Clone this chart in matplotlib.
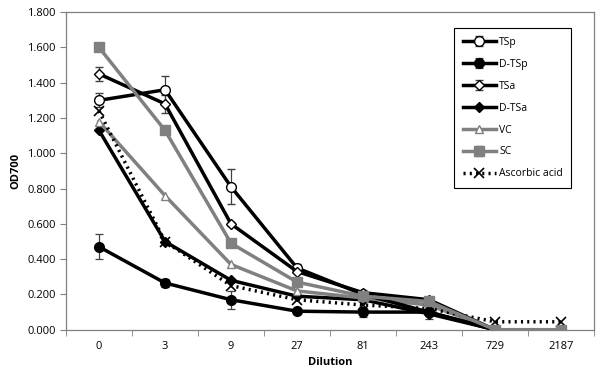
import matplotlib.pyplot as plt
import numpy as np

plt.rcParams['font.family'] = ['Open Sans', 'DejaVu Sans']

dilutions = ['0', '3', '9', '27', '81', '243', '729', '2187']

tsp = [1.30, 1.36, 0.81, 0.35, 0.20, 0.10, 0.0, 0.0]
tsp_err = [0.04, 0.08, 0.10, 0.02, 0.02, 0.02, 0.0, 0.0]
dtsp = [0.47, 0.265, 0.17, 0.105, 0.10, 0.10, 0.0, 0.0]
dtsp_err = [0.07, 0.02, 0.05, 0.01, 0.03, 0.04, 0.0, 0.0]
tsa = [1.45, 1.28, 0.60, 0.33, 0.21, 0.17, 0.0, 0.0]
tsa_err = [0.04, 0.05, 0.01, 0.01, 0.01, 0.01, 0.0, 0.0]
dtsa = [1.13, 0.50, 0.28, 0.19, 0.17, 0.09, 0.0, 0.0]
vc = [1.18, 0.76, 0.37, 0.22, 0.18, 0.14, 0.0, 0.0]
sc = [1.60, 1.13, 0.49, 0.27, 0.19, 0.16, 0.0, 0.0]
sc_err = [0.02, 0.01, 0.01, 0.01, 0.01, 0.01, 0.0, 0.0]
ascorbic = [1.24, 0.50, 0.25, 0.17, 0.14, 0.12, 0.045, 0.045]

labels = ['TSp', 'D-TSp', 'TSa', 'D-TSa', 'VC', 'SC', 'Ascorbic acid']

x = np.arange(len(dilutions))

fig, ax = plt.subplots(figsize=(6, 3.79), dpi=100)
fig.subplots_adjust(left=0.11, right=0.99, top=0.968, bottom=0.13)

black = '#000000'
gray = '#808080'
ekw = dict(ecolor='#404040', elinewidth=0.9, capsize=3, capthick=0.9)

handles = {}
handles['TSp'] = ax.errorbar(x, tsp, yerr=tsp_err, color=black, lw=2.5,
                             marker='o', ms=7, mfc='white', mec=black,
                             mew=1, **ekw)
handles['D-TSp'] = ax.errorbar(x, dtsp, yerr=dtsp_err, color=black, lw=2.5,
                               marker='o', ms=7, mfc=black, mec=black, **ekw)
handles['TSa'] = ax.errorbar(x, tsa, yerr=tsa_err, color=black, lw=2.5,
                             marker='D', ms=5, mfc='white', mec=black,
                             mew=1, **ekw)
handles['D-TSa'], = ax.plot(x, dtsa, color=black, lw=2.5, marker='D', ms=5,
                            mfc=black, mec=black)
handles['VC'], = ax.plot(x, vc, color=gray, lw=2.5, marker='^', ms=6,
                         mfc='white', mec=gray, mew=1)
handles['SC'] = ax.errorbar(x, sc, yerr=sc_err, color=gray, lw=2.5,
                            marker='s', ms=7, mfc=gray, mec=gray, **ekw)
handles['Ascorbic acid'], = ax.plot(x, ascorbic, color=black, lw=2.5,
                                    ls=(0, (0.6, 1.2)), marker='x', ms=7,
                                    mew=1.2, mec=black)

ax.set_xlim(-0.5, len(dilutions) - 0.5)
ax.set_ylim(0, 1.8)
yt = np.arange(0, 1.81, 0.2)
ax.set_yticks(yt)
ax.set_yticklabels([f'{v:.3f}' for v in yt], fontsize=8)
ax.set_xticks(x)
ax.set_xticklabels(dilutions, fontsize=8)
ax.set_xticks(np.arange(-0.5, len(dilutions)), minor=True)
ax.tick_params(axis='x', which='major', length=0, pad=8)
ax.tick_params(axis='x', which='minor', length=4, color='#808080')
ax.tick_params(axis='y', length=4, color='#808080')
for s in ax.spines.values():
    s.set_color('#808080')
    s.set_linewidth(0.9)

ax.set_xlabel('Dilution', fontsize=8, fontweight='bold')
ax.set_ylabel('OD700', fontsize=8, fontweight='bold')

leg = ax.legend([handles[k] for k in labels], labels, loc='upper right',
                bbox_to_anchor=(0.967, 0.965), fontsize=7.5,
                handlelength=3.2, labelspacing=1.05, borderpad=0.8,
                fancybox=False, framealpha=1, edgecolor=black,
                handletextpad=0.3)
leg.get_frame().set_linewidth(0.8)

fig.savefig('out.png', dpi=100)
